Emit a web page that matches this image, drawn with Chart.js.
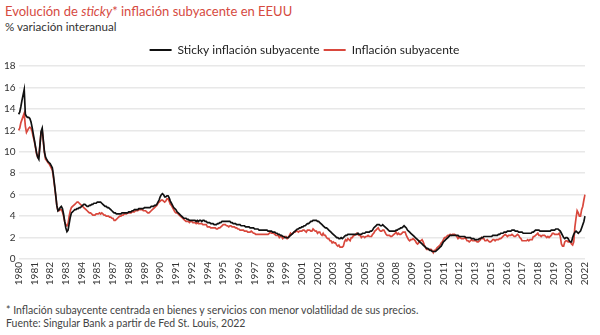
<!DOCTYPE html>
<html>
<head>
<meta charset="utf-8">
<script src="https://cdn.jsdelivr.net/npm/chart.js@4.4.1/dist/chart.umd.min.js"></script>
<style>
	html, body { margin: 0; padding: 0; background: #fff; }
	body { width: 600px; height: 335px; position: relative; overflow: hidden; font-family: Lato, 'Open Sans', sans-serif; }
	#title { position: absolute; left: 5px; top: 3px; font-size: 13px; color: #d64a3f; white-space: nowrap; }
	#subtitle { position: absolute; left: 5px; top: 20px; font-size: 11.6px; color: #333; white-space: nowrap; }
	#chart-box { position: absolute; left: 0; top: 40px; width: 600px; height: 253px; }
	.note { position: absolute; left: 6px; font-size: 10.5px; color: #444; white-space: nowrap; }
</style>
</head>
<body>
<div id="title">Evolución de <i>sticky</i>* inflación subyacente en EEUU</div>
<div id="subtitle">% variación interanual</div>
<div id="chart-box"><canvas id="chart"></canvas></div>
<div class="note" style="top:304px">* Inflación subaycente centrada en bienes y servicios con menor volatilidad de sus precios.</div>
<div class="note" style="top:317px">Fuente: Singular Bank a partir de Fed St. Louis, 2022</div>
<script>
// monthly series, Jan 1980 - Jan 2022, one row per year
const firstYear = 1980;
const lastYear = 2022;
const labelStep = 14;

const sticky = [
	13.5, 13.7, 14.2, 14.8, 15.3, 15.8, 13.5, 13.3, 13.2, 13.2, 13.1, 12.8,
	12.3, 11.7, 11.1, 10.5, 9.9, 9.5, 9.3, 10.6, 11.9, 12.2, 11.1, 10.0,
	9.5, 9.3, 9.1, 9.0, 8.9, 8.7, 8.5, 7.8, 6.9, 6.0, 5.0, 4.5,
	4.6, 4.8, 4.9, 4.7, 4.2, 3.5, 2.9, 2.55, 2.7, 3.3, 3.9, 4.3,
	4.4, 4.5, 4.6, 4.6, 4.7, 4.7, 4.8, 4.8, 4.9, 5.0, 5.1, 5.1,
	5.0, 4.9, 4.9, 5.0, 5.0, 5.1, 5.1, 5.2, 5.2, 5.2, 5.3, 5.3,
	5.3, 5.3, 5.2, 5.1, 5.0, 4.9, 4.9, 4.8, 4.8, 4.7, 4.6, 4.5,
	4.4, 4.3, 4.3, 4.2, 4.2, 4.2, 4.2, 4.2, 4.3, 4.3, 4.3, 4.3,
	4.3, 4.3, 4.4, 4.4, 4.4, 4.5, 4.5, 4.6, 4.6, 4.6, 4.6, 4.7,
	4.7, 4.7, 4.7, 4.7, 4.8, 4.8, 4.8, 4.8, 4.8, 4.8, 4.9, 4.9,
	4.9, 5.0, 5.0, 5.1, 5.3, 5.5, 5.8, 6.0, 6.1, 6.0, 5.8, 5.8,
	5.9, 5.9, 5.7, 5.4, 5.2, 5.0, 4.8, 4.7, 4.6, 4.4, 4.3, 4.2,
	4.1, 4.0, 3.9, 3.8, 3.8, 3.8, 3.7, 3.7, 3.6, 3.6, 3.6, 3.6,
	3.6, 3.6, 3.5, 3.6, 3.5, 3.6, 3.6, 3.5, 3.6, 3.6, 3.5, 3.5,
	3.4, 3.4, 3.4, 3.3, 3.3, 3.3, 3.2, 3.2, 3.2, 3.3, 3.3, 3.4,
	3.4, 3.5, 3.5, 3.5, 3.5, 3.5, 3.5, 3.5, 3.5, 3.4, 3.4, 3.3,
	3.3, 3.3, 3.2, 3.2, 3.2, 3.2, 3.1, 3.1, 3.1, 3.1, 3.0, 3.0,
	3.0, 3.0, 2.9, 2.9, 2.9, 2.9, 2.8, 2.8, 2.8, 2.8, 2.7, 2.7,
	2.7, 2.7, 2.7, 2.7, 2.7, 2.7, 2.6, 2.6, 2.6, 2.6, 2.5, 2.5,
	2.5, 2.4, 2.4, 2.3, 2.3, 2.2, 2.2, 2.1, 2.1, 2.0, 2.0, 2.0,
	2.0, 2.1, 2.2, 2.3, 2.4, 2.5, 2.6, 2.7, 2.8, 2.8, 2.9, 2.9,
	3.0, 3.0, 3.1, 3.1, 3.2, 3.3, 3.3, 3.4, 3.5, 3.5, 3.6, 3.6,
	3.6, 3.6, 3.5, 3.5, 3.4, 3.3, 3.2, 3.1, 3.0, 2.9, 2.9, 2.8,
	2.7, 2.6, 2.5, 2.4, 2.3, 2.2, 2.1, 2.0, 2.0, 1.9, 1.9, 2.0,
	1.9, 2.0, 2.1, 2.2, 2.2, 2.3, 2.3, 2.3, 2.3, 2.3, 2.3, 2.3,
	2.3, 2.3, 2.4, 2.3, 2.3, 2.3, 2.4, 2.4, 2.4, 2.5, 2.5, 2.5,
	2.5, 2.6, 2.6, 2.7, 2.9, 3.0, 3.1, 3.2, 3.2, 3.2, 3.1, 3.1,
	3.2, 3.1, 3.0, 2.9, 2.8, 2.7, 2.6, 2.6, 2.6, 2.6, 2.6, 2.6,
	2.7, 2.7, 2.8, 2.8, 2.9, 2.9, 3.0, 3.1, 3.0, 2.9, 2.7, 2.6,
	2.5, 2.4, 2.3, 2.2, 2.1, 2.0, 1.9, 1.8, 1.7, 1.6, 1.5, 1.4,
	1.3, 1.2, 1.1, 1.0, 1.0, 0.9, 0.8, 0.8, 0.7, 0.7, 0.7, 0.7,
	0.8, 0.9, 1.0, 1.1, 1.2, 1.4, 1.6, 1.7, 1.8, 1.9, 2.0, 2.1,
	2.2, 2.2, 2.2, 2.2, 2.2, 2.2, 2.2, 2.2, 2.1, 2.1, 2.1, 2.1,
	2.1, 2.1, 2.0, 2.0, 2.0, 2.0, 2.0, 1.9, 1.9, 1.9, 1.8, 1.8,
	1.8, 1.8, 1.9, 1.9, 2.0, 2.0, 2.1, 2.1, 2.1, 2.1, 2.1, 2.1,
	2.1, 2.1, 2.2, 2.2, 2.2, 2.2, 2.2, 2.3, 2.3, 2.4, 2.4, 2.4,
	2.5, 2.5, 2.5, 2.6, 2.6, 2.6, 2.6, 2.7, 2.7, 2.7, 2.6, 2.6,
	2.6, 2.5, 2.5, 2.5, 2.5, 2.4, 2.4, 2.4, 2.4, 2.4, 2.4, 2.4,
	2.4, 2.5, 2.5, 2.6, 2.7, 2.7, 2.7, 2.7, 2.6, 2.6, 2.6, 2.6,
	2.6, 2.6, 2.6, 2.6, 2.6, 2.6, 2.7, 2.7, 2.7, 2.7, 2.8, 2.8,
	2.8, 2.7, 2.6, 2.4, 2.2, 2.0, 1.9, 2.0, 2.0, 1.9, 1.7, 1.6,
	1.6, 2.0, 2.3, 2.5, 2.6, 2.5, 2.4, 2.5, 2.6, 2.9, 3.2, 3.5,
	4.0
];

const core = [
	12.0, 12.2, 12.7, 13.0, 13.3, 13.6, 12.4, 11.8, 12.0, 12.2, 12.3, 12.2,
	11.9, 11.4, 11.0, 10.4, 9.8, 9.5, 9.6, 10.7, 11.8, 12.0, 10.9, 9.9,
	9.3, 9.2, 9.0, 8.9, 8.7, 8.5, 8.3, 7.6, 6.8, 5.9, 5.0, 4.5,
	4.5, 4.6, 4.6, 4.4, 4.0, 3.5, 3.2, 3.1, 3.3, 4.0, 4.5, 4.8,
	4.9, 5.0, 5.1, 5.2, 5.3, 5.3, 5.2, 5.1, 5.0, 4.9, 4.8, 4.7,
	4.6, 4.5, 4.4, 4.3, 4.3, 4.2, 4.1, 4.1, 4.1, 4.2, 4.2, 4.2,
	4.3, 4.2, 4.3, 4.2, 4.1, 4.1, 4.0, 4.0, 4.0, 3.9, 3.9, 3.8,
	3.8, 3.6, 3.6, 3.7, 3.8, 3.9, 4.0, 4.0, 4.1, 4.1, 4.2, 4.2,
	4.2, 4.3, 4.3, 4.3, 4.3, 4.4, 4.4, 4.4, 4.5, 4.5, 4.5, 4.6,
	4.6, 4.6, 4.6, 4.5, 4.5, 4.5, 4.4, 4.3, 4.3, 4.4, 4.5, 4.6,
	4.7, 4.8, 4.9, 5.0, 5.2, 5.3, 5.4, 5.5, 5.5, 5.4, 5.3, 5.4,
	5.6, 5.6, 5.4, 5.1, 5.0, 4.8, 4.6, 4.4, 4.3, 4.3, 4.2, 4.1,
	4.0, 3.9, 3.8, 3.7, 3.6, 3.5, 3.5, 3.5, 3.4, 3.5, 3.5, 3.4,
	3.4, 3.4, 3.3, 3.4, 3.3, 3.3, 3.3, 3.3, 3.2, 3.2, 3.2, 3.2,
	3.0, 3.0, 3.0, 2.9, 2.9, 2.9, 2.9, 2.9, 2.8, 2.8, 2.9, 2.9,
	3.0, 3.1, 3.2, 3.2, 3.2, 3.1, 3.1, 3.0, 3.1, 3.1, 3.0, 3.0,
	3.0, 2.9, 2.9, 2.8, 2.8, 2.7, 2.7, 2.7, 2.7, 2.6, 2.6, 2.6,
	2.5, 2.5, 2.5, 2.6, 2.5, 2.4, 2.4, 2.3, 2.3, 2.3, 2.3, 2.3,
	2.3, 2.3, 2.3, 2.3, 2.3, 2.3, 2.3, 2.4, 2.5, 2.4, 2.4, 2.4,
	2.3, 2.2, 2.2, 2.2, 2.0, 2.1, 2.1, 1.9, 2.0, 2.1, 2.1, 1.9,
	2.0, 2.2, 2.4, 2.3, 2.4, 2.5, 2.5, 2.6, 2.6, 2.5, 2.6, 2.6,
	2.6, 2.7, 2.7, 2.6, 2.5, 2.7, 2.7, 2.7, 2.6, 2.6, 2.8, 2.7,
	2.6, 2.6, 2.4, 2.5, 2.5, 2.3, 2.2, 2.4, 2.2, 2.2, 2.0, 1.9,
	1.9, 1.7, 1.7, 1.5, 1.6, 1.5, 1.5, 1.3, 1.2, 1.3, 1.1, 1.1,
	1.1, 1.2, 1.6, 1.8, 1.7, 1.9, 1.8, 1.7, 2.0, 2.0, 2.2, 2.2,
	2.3, 2.4, 2.3, 2.2, 2.2, 2.0, 2.1, 2.1, 2.0, 2.1, 2.1, 2.2,
	2.1, 2.1, 2.1, 2.3, 2.4, 2.6, 2.7, 2.8, 2.9, 2.7, 2.6, 2.6,
	2.7, 2.7, 2.5, 2.3, 2.2, 2.2, 2.2, 2.1, 2.1, 2.2, 2.3, 2.4,
	2.5, 2.3, 2.4, 2.3, 2.3, 2.4, 2.5, 2.5, 2.5, 2.2, 2.0, 1.8,
	1.7, 1.8, 1.8, 1.9, 1.8, 1.7, 1.5, 1.4, 1.5, 1.7, 1.7, 1.8,
	1.6, 1.3, 1.1, 0.9, 0.9, 0.9, 0.9, 0.9, 0.8, 0.6, 0.8, 0.8,
	1.0, 1.1, 1.2, 1.3, 1.5, 1.6, 1.8, 2.0, 2.0, 2.1, 2.2, 2.2,
	2.3, 2.2, 2.3, 2.3, 2.3, 2.2, 2.1, 1.9, 2.0, 2.0, 1.9, 1.9,
	1.9, 2.0, 1.9, 1.7, 1.7, 1.6, 1.7, 1.8, 1.7, 1.7, 1.7, 1.7,
	1.6, 1.6, 1.7, 1.8, 2.0, 1.9, 1.9, 1.7, 1.7, 1.8, 1.7, 1.6,
	1.6, 1.7, 1.8, 1.8, 1.7, 1.8, 1.8, 1.8, 1.9, 1.9, 2.0, 2.1,
	2.2, 2.3, 2.2, 2.1, 2.2, 2.2, 2.2, 2.3, 2.2, 2.1, 2.1, 2.2,
	2.3, 2.2, 2.0, 1.9, 1.7, 1.7, 1.7, 1.7, 1.7, 1.8, 1.7, 1.8,
	1.8, 1.8, 2.1, 2.1, 2.2, 2.3, 2.4, 2.2, 2.2, 2.1, 2.2, 2.2,
	2.2, 2.1, 2.0, 2.1, 2.0, 2.1, 2.2, 2.4, 2.4, 2.3, 2.3, 2.3,
	2.3, 2.4, 2.1, 1.4, 1.2, 1.2, 1.6, 1.7, 1.7, 1.6, 1.6, 1.6,
	1.4, 1.3, 1.6, 3.0, 3.8, 4.5, 4.3, 4.0, 4.0, 4.6, 4.9, 5.5,
	6.0
];

// one category per month, labelled with its year
const labels = [];
for (let y = firstYear; y <= lastYear; y++) {
	for (let m = 0; m < 12; m++) {
		if (labels.length < sticky.length) labels.push(String(y));
	}
}

const FONT = 'Lato, "Open Sans", sans-serif';

// nudge the legend row a little to the right of the canvas centre
const legendShift = {
	id: 'legendShift',
	afterLayout: (chart) => {
		chart.legend.left += 9;
		chart.legend.right += 9;
	}
};

const config = {
	type: 'line',
	data: {
		labels: labels,
		datasets: [{
			label: 'Sticky inflación subyacente',
			data: sticky,
			borderColor: '#111111',
			backgroundColor: '#111111',
			borderWidth: 1.7
		}, {
			label: 'Inflación subyacente',
			data: core,
			borderColor: '#d9483d',
			backgroundColor: '#d9483d',
			borderWidth: 1.7
		}]
	},
	plugins: [legendShift],
	options: {
		responsive: true,
		maintainAspectRatio: false,
		animation: false,
		elements: {
			point: { radius: 0 },
			line: { tension: 0 }
		},
		layout: { padding: { left: 1, right: 10, top: 0, bottom: 0 } },
		plugins: {
			tooltip: { enabled: false },
			legend: {
				position: 'top',
				labels: {
					color: '#222',
					boxWidth: 22,
					boxHeight: 2,
					padding: 4,
					font: { family: FONT, size: 12 },
					generateLabels: (chart) => Chart.defaults.plugins.legend.labels.generateLabels(chart)
						.map(item => Object.assign(item, { lineWidth: 0, fillStyle: item.strokeStyle }))
				}
			}
		},
		scales: {
			x: {
				grid: { display: false, drawTicks: false },
				border: { display: false },
				afterFit: (scale) => { scale.height = 34; },
				ticks: {
					autoSkip: false,
					minRotation: 90,
					maxRotation: 90,
					padding: 3,
					color: '#333',
					font: { family: FONT, size: 10 },
					callback: function (value, index) {
						return index % labelStep === 0 ? this.getLabelForValue(value) : null;
					}
				}
			},
			y: {
				min: 0,
				max: 18,
				grid: { color: '#e8e8e8', lineWidth: 1.5, drawTicks: false },
				border: { display: false },
				ticks: {
					stepSize: 2,
					padding: 3,
					color: '#333',
					font: { family: FONT, size: 10 }
				}
			}
		}
	}
};

new Chart(document.getElementById('chart'), config);
</script>
</body>
</html>
